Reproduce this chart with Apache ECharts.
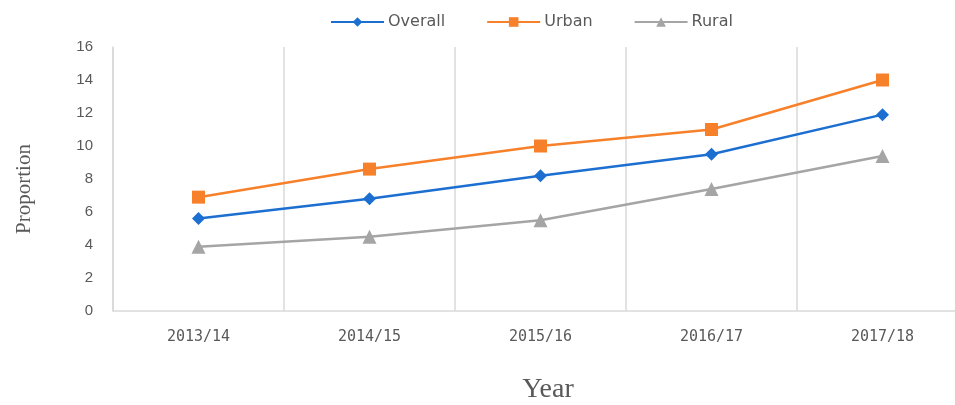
<!DOCTYPE html>
<html>
<head>
<meta charset="utf-8">
<script src="https://cdn.jsdelivr.net/npm/echarts@6/dist/echarts.min.js"></script>
<style>html,body{margin:0;padding:0;background:#fff}#c{width:955px;height:405px}</style>
</head>
<body>
<div id="c"></div>
<script>
const categories = ['2013/14', '2014/15', '2015/16', '2016/17', '2017/18'];
const overall = [5.6, 6.8, 8.2, 9.5, 11.9];
const urban = [6.9, 8.6, 10.0, 11.0, 14.0];
const rural = [3.9, 4.5, 5.5, 7.4, 9.4];
const yTicks = [0, 2, 4, 6, 8, 10, 12, 14, 16];

const chart = echarts.init(document.getElementById('c'), null, {renderer: 'canvas'});
const txt = '#595959';
function line(name, data, color, symbol, size) {
  return {
    name, type: 'line', data, symbol, symbolSize: size,
    lineStyle: {color, width: 2.5},
    itemStyle: {color},
    emphasis: {disabled: true},
    z: 3
  };
}
chart.setOption({
  animation: false,
  legend: {
    top: 9, left: 325,
    itemWidth: 53, itemHeight: 12, itemGap: 41,
    textStyle: {color: txt, fontSize: 16, fontFamily: 'DejaVu Sans', padding: [0,0,0,-1]},
    data: ['Overall', 'Urban', 'Rural']
  },
  grid: {left: 113, width: 855, top: 47, height: 264, containLabel: false, outerBoundsMode: 'none'},
  xAxis: {
    type: 'category', data: categories, boundaryGap: true,
    axisLine: {show: true, lineStyle: {color: '#d9d9d9', width: 1.5}},
    axisTick: {show: false},
    splitLine: {show: true, lineStyle: {color: '#d9d9d9', width: 1.5}},
    axisLabel: {color: txt, fontSize: 15, fontFamily: 'DejaVu Sans Mono', margin: 19}
  },
  yAxis: {
    type: 'value', min: yTicks[0], max: yTicks[yTicks.length - 1], interval: 2,
    axisLine: {show: true, lineStyle: {color: '#d9d9d9', width: 1.5}},
    axisTick: {show: false},
    splitLine: {show: false},
    axisLabel: {color: txt, fontSize: 15, fontFamily: 'Liberation Sans', margin: 20}
  },
  graphic: [
    {type: 'text', x: 24, y: 189, rotation: Math.PI / 2,
     style: {text: 'Proportion', fill: txt, font: '21px "Liberation Serif"', textAlign: 'center', textVerticalAlign: 'middle'}},
    {type: 'text', x: 548, y: 390,
     style: {text: 'Year', fill: txt, font: '28px "Liberation Serif"', textAlign: 'center', textVerticalAlign: 'middle'}}
  ],
  series: [
    line('Overall', overall, '#1c6fd0', 'diamond', 13),
    line('Urban', urban, '#f7812b', 'rect', 13),
    line('Rural', rural, '#a5a5a5', 'triangle', 14)
  ]
});
</script>
</body>
</html>
